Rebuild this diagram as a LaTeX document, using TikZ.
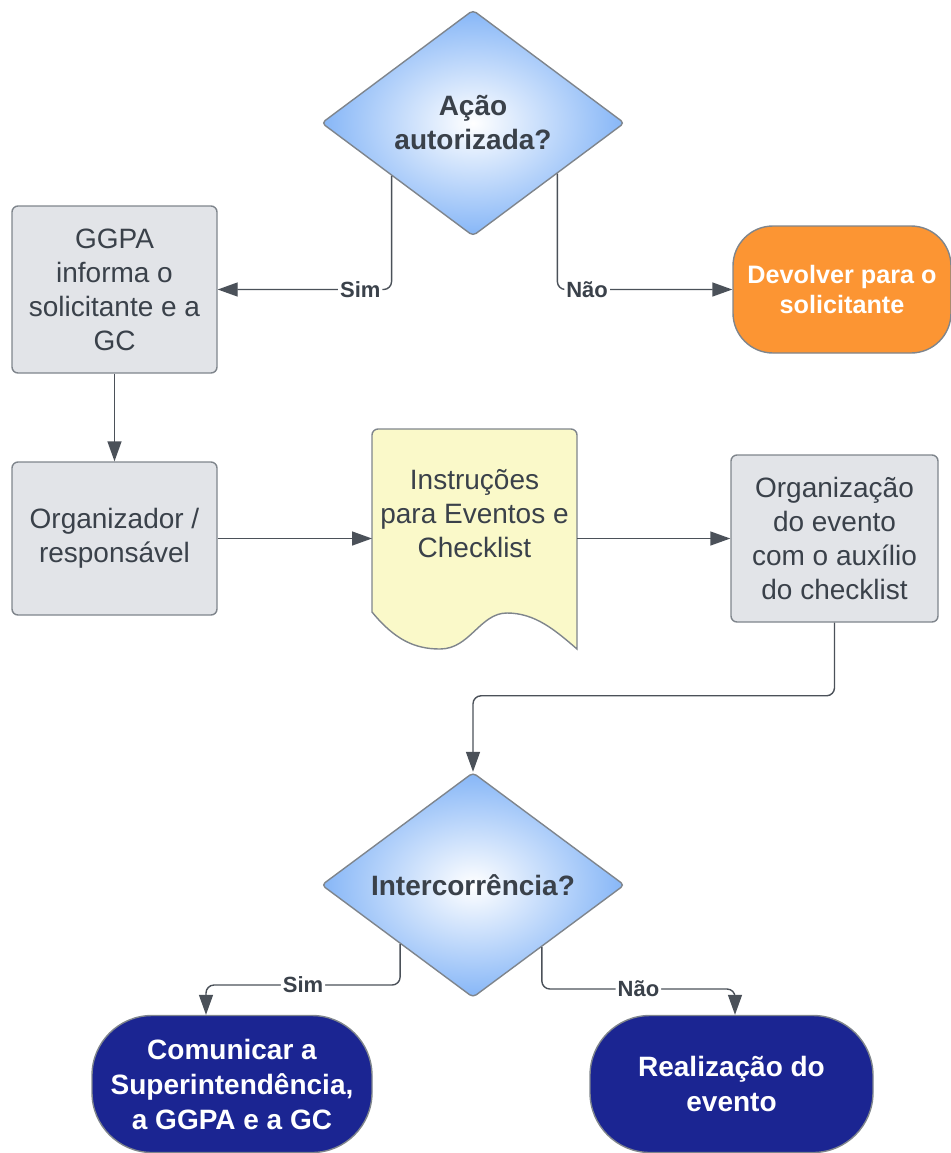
\documentclass[tikz,border=0pt]{standalone}
\usepackage{fontspec}
\setmainfont{Liberation Sans}
\usetikzlibrary{positioning}
\usetikzlibrary{shapes.geometric}
\usetikzlibrary{arrows.meta}

\definecolor{inktext}{HTML}{3A414A}
\definecolor{inkline}{HTML}{4B5159}
\definecolor{boxgray}{HTML}{E2E4E8}
\definecolor{boxborder}{HTML}{7F858C}
\definecolor{docyellow}{HTML}{FAF9C9}
\definecolor{termorange}{HTML}{FC9533}
\definecolor{termnavy}{HTML}{1B2592}
\definecolor{decblue}{HTML}{86B6F7}

\begin{document}
\begin{tikzpicture}
    [
    x=0.5pt, y=-0.5pt,
    on grid,
    every node/.style={text=inktext, align=center, font=\fontsize{14}{17}\selectfont},
    decision/.style={diamond, draw=boxborder, line width=0.7pt, inner color=white, outer color=decblue, rounded corners=2pt, inner sep=0pt, minimum width=151.5pt, font=\bfseries\fontsize{14}{17}\selectfont},
    process/.style={rectangle, draw=boxborder, line width=0.7pt, fill=boxgray, rounded corners=3pt, minimum width=102.5pt, minimum height=83.5pt},
    terminal/.style={rectangle, draw=boxborder, line width=0.7pt, text=white, font=\bfseries\fontsize{14}{17.5}\selectfont},
    docbox/.style={draw=boxborder, line width=0.7pt, fill=docyellow},
    connector/.style={draw=inkline, line width=0.7pt, rounded corners=4pt, -{Triangle[length=10pt,width=7pt]}},
    branch_label/.style={fill=white, inner sep=1pt, font=\bfseries\fontsize{11}{13}\selectfont},
    ]

    \useasboundingbox (0,0) rectangle (951,1153);

    \node[decision, minimum height=113pt] (dec_auth) at (473,123)
    {Ação\\autorizada?};

    \node[process, below left = 83.25pt and 179.25pt of dec_auth] (proc_inform)
    {GGPA\\informa o\\solicitante e a\\GC};

    \node[terminal, fill=termorange, rounded corners=20pt, minimum width=109pt, minimum height=63.5pt,
      font=\bfseries\fontsize{12.6}{15}\selectfont, below right = 83.25pt and 184.5pt of dec_auth] (term_return)
    {Devolver para o\\solicitante};

    \draw[connector] (dec_auth.213.5) |- node[branch_label, pos=0.59] (lbl_auth_yes) {Sim} (proc_inform.east);
    \draw[connector] (dec_auth.-31.3) |- node[branch_label, pos=0.585] (lbl_auth_no) {Não} (term_return.west);

    \node[process, minimum height=76.5pt, below = 124.5pt of proc_inform] (proc_organizer)
    {Organizador /\\responsável};

    \draw[connector] (proc_inform.south) -- (proc_organizer.north);

    % document shape, drawn round its middle point
    \coordinate[right = 180pt of proc_organizer] (doc_mid);
    \coordinate[left = 51.25pt of doc_mid] (doc_w);
    \coordinate[right = 51.25pt of doc_mid] (doc_e);
    \path[docbox] ([shift={(-51.25pt,-36.75pt)}]doc_mid)
      [rounded corners=3pt] -- ([shift={(-51.25pt,54.75pt)}]doc_mid)
      -- ([shift={(51.25pt,54.75pt)}]doc_mid)
      [sharp corners] -- ([shift={(51.25pt,-55.25pt)}]doc_mid)
      .. controls ([shift={(40.25pt,-45.75pt)}]doc_mid) and ([shift={(30.25pt,-37.25pt)}]doc_mid) .. ([shift={(16.25pt,-37.25pt)}]doc_mid)
      .. controls ([shift={(2.75pt,-37.25pt)}]doc_mid) and ([shift={(-2.25pt,-55.25pt)}]doc_mid) .. ([shift={(-17.25pt,-55.25pt)}]doc_mid)
      .. controls ([shift={(-29.75pt,-55.25pt)}]doc_mid) and ([shift={(-39.75pt,-50.75pt)}]doc_mid) .. ([shift={(-51.25pt,-36.75pt)}]doc_mid)
      -- cycle;
    \node (doc_instr) at ([yshift=12.25pt]doc_mid)
    {Instruções\\para Eventos e\\Checklist};

    \node[process, minimum width=103.5pt, right = 360pt of proc_organizer] (proc_event)
    {Organização\\do evento\\com o auxílio\\do checklist};

    \draw[connector] (proc_organizer.east) -- (doc_w);
    \draw[connector] (doc_e) -- (proc_event.west);

    \node[decision, minimum height=107pt, below = 381pt of dec_auth] (dec_incident)
    {Intercorrência?};

    \coordinate[above = 38pt of dec_incident.north] (turn_incident);
    \draw[connector] (proc_event.south) |- (turn_incident) -- (dec_incident.north);

    \node[terminal, fill=termnavy, rounded corners=30pt, minimum width=140pt, minimum height=68.5pt,
      below left = 99.5pt and 120.5pt of dec_incident] (term_report)
    {Comunicar a\\Superintendência,\\a GGPA e a GC};

    \node[terminal, fill=termnavy, rounded corners=30pt, minimum width=141.5pt, minimum height=68.5pt,
      below right = 99.5pt and 129.25pt of dec_incident] (term_event)
    {Realização do\\evento};

    \draw[connector] (dec_incident.219) -- ++(0,-20.5pt)
      -| node[branch_label, pos=0.25] (lbl_inc_yes) {Sim} ([xshift=-13pt]term_report.north);
    \draw[connector] (dec_incident.-42) -- ++(0,-21pt)
      -| node[branch_label, pos=0.25] (lbl_inc_no) {Não} ([xshift=1.75pt]term_event.north);
\end{tikzpicture}
\end{document}
